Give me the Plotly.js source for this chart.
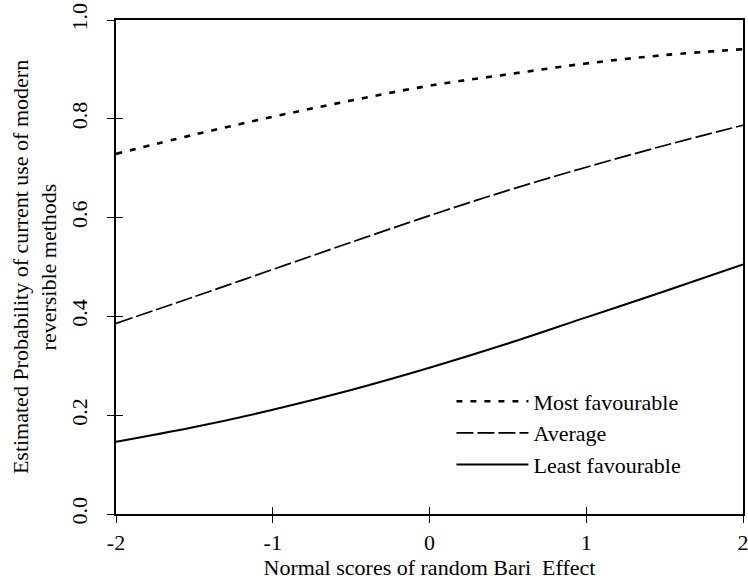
<!DOCTYPE html>
<html>
<head>
<meta charset="utf-8">
<script src="https://cdn.plot.ly/plotly-3.0.1.min.js"></script>
<style>body{margin:0;padding:0;background:#fff}#chart{width:748px;height:581px}</style>
</head>
<body>
<div id="chart"></div>
<script>
var xScores = [-2, -1.5, -1, -0.5, 0, 0.5, 1, 1.5, 2];
var mostFavourable = [0.729, 0.768, 0.804, 0.837, 0.867, 0.890, 0.912, 0.929, 0.941];
var average = [0.386, 0.440, 0.495, 0.550, 0.604, 0.655, 0.702, 0.746, 0.787];
var leastFavourable = [0.146, 0.176, 0.211, 0.251, 0.296, 0.345, 0.398, 0.451, 0.505];
var seriesNames = ['Most favourable', 'Average', 'Least favourable'];
var xTicks = [-2, -1, 0, 1, 2];
var xTickText = ['-2', '-1', '0', '1', '2'];
var yTicks = [0, 0.2, 0.4, 0.6, 0.8, 1.0];
var yTickText = ['0.0', '0.2', '0.4', '0.6', '0.8', '1.0'];

var font = {family: '"Liberation Serif", "Times New Roman", serif', size: 22, color: '#000'};

var traces = [
  {x: xScores, y: mostFavourable, name: seriesNames[0], mode: 'lines',
   line: {color: '#000', width: 2.6, dash: '6px,8px', shape: 'spline'}},
  {x: xScores, y: average, name: seriesNames[1], mode: 'lines',
   line: {color: '#000', width: 1.7, dash: '17px,4px', shape: 'spline'}},
  {x: xScores, y: leastFavourable, name: seriesNames[2], mode: 'lines',
   line: {color: '#000', width: 2, shape: 'spline'}},
  {x: xScores, y: leastFavourable, xaxis: 'x2', yaxis: 'y2', mode: 'lines',
   showlegend: false, hoverinfo: 'skip', line: {color: 'rgba(0,0,0,0)', width: 0}}
];

var layout = {
  width: 748, height: 581,
  margin: {l: 116, r: 5, t: 20, b: 67},
  paper_bgcolor: '#fff', plot_bgcolor: '#fff',
  font: font,
  showlegend: true,
  legend: {x: 0.535, y: 0.164, xanchor: 'left', yanchor: 'middle', bgcolor: 'rgba(0,0,0,0)',
           font: font, itemwidth: 72, tracegroupgap: 0},
  xaxis: {
    range: [-2, 2], tickvals: xTicks, ticktext: xTickText,
    showgrid: false, zeroline: false, showline: true, mirror: true,
    linecolor: '#000', linewidth: 2, ticks: 'outside', ticklen: 7, tickwidth: 1, tickcolor: '#000',
    tickfont: font, ticklabelstandoff: 1, ticklabeloverflow: 'allow',
    title: {text: 'Normal scores of random Bari  Effect', font: font, standoff: 0}
  },
  yaxis: {
    range: [0, 1], tickvals: yTicks, ticktext: yTickText, tickangle: -90,
    showgrid: false, zeroline: false, showline: true, mirror: true,
    linecolor: '#000', linewidth: 2, ticks: 'outside', ticklen: 7, tickwidth: 1, tickcolor: '#000',
    tickfont: font, ticklabelstandoff: 11, ticklabeloverflow: 'allow',
    title: {text: 'Estimated Probability of current use of modern<br>reversible methods', font: font, standoff: 4}
  },
  xaxis2: {overlaying: 'x', matches: 'x', range: [-2, 2], tickvals: xTicks, showticklabels: false,
           showgrid: false, zeroline: false, ticks: 'inside', ticklen: 7, tickwidth: 1, tickcolor: '#000'},
  yaxis2: {overlaying: 'y', matches: 'y', range: [0, 1], tickvals: yTicks, showticklabels: false,
           showgrid: false, zeroline: false, ticks: 'inside', ticklen: 7, tickwidth: 1, tickcolor: '#000'}
};

Plotly.newPlot('chart', traces, layout, {displayModeBar: false, staticPlot: true});
</script>
</body>
</html>
